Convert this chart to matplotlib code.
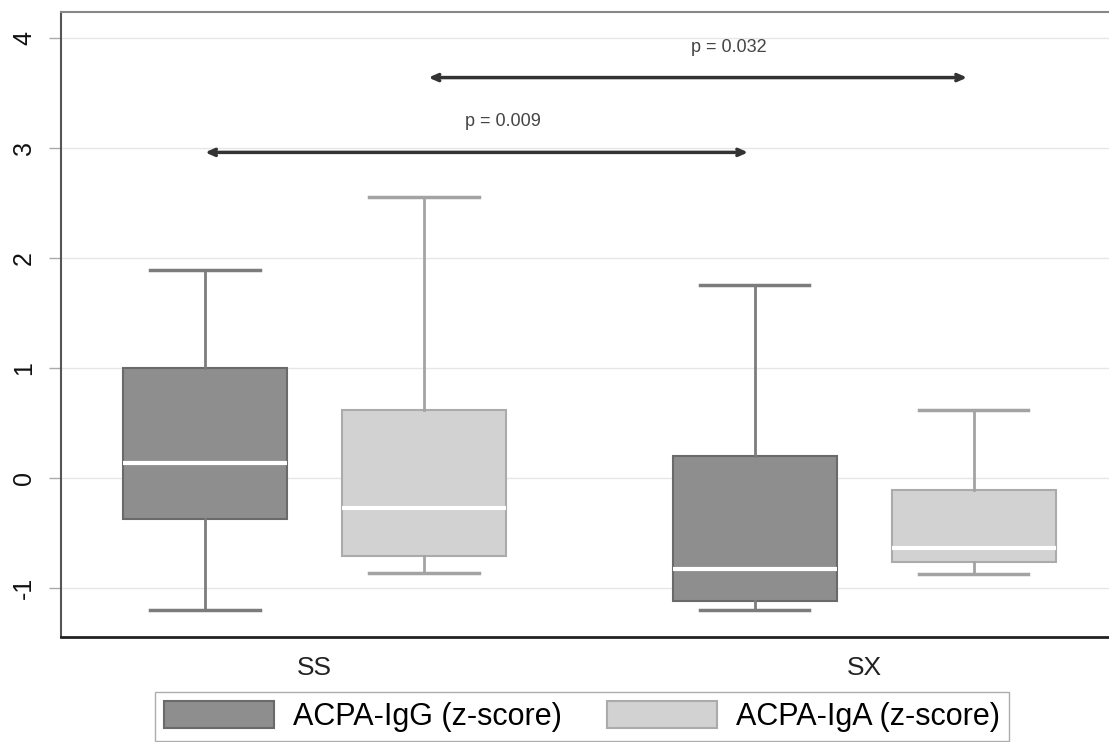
import numpy as np
import matplotlib
matplotlib.use("Agg")
import matplotlib.pyplot as plt
from matplotlib.patches import Patch

plt.rcParams['font.family'] = ['Liberation Sans', 'DejaVu Sans']

groups = ['SS', 'SX']
series = ['ACPA-IgG (z-score)', 'ACPA-IgA (z-score)']

# box statistics
igg_med = [0.14, -0.83]
igg_q1 = [-0.37, -1.12]
igg_q3 = [1.00, 0.20]
igg_lo = [-1.20, -1.20]
igg_hi = [1.89, 1.75]

iga_med = [-0.27, -0.64]
iga_q1 = [-0.71, -0.76]
iga_q3 = [0.62, -0.11]
iga_lo = [-0.86, -0.87]
iga_hi = [2.55, 0.62]

p_labels = ['p = 0.009', 'p = 0.032']
p_levels = [2.96, 3.64]

fill_cols = ['#8e8e8e', '#d2d2d2']
edge_cols = ['#6a6a6a', '#ababab']
whisk_cols = ['#7c7c7c', '#a3a3a3']

group_pos = np.array([0.0, 2.51])
offsets = [0.0, 1.0]

fig = plt.figure(figsize=(11.09, 7.42), dpi=100)
ax = fig.add_axes([61 / 1109, 1 - 637 / 742, 1 - 61 / 1109, (637 - 12) / 742])

all_stats = [
    (igg_med, igg_q1, igg_q3, igg_lo, igg_hi),
    (iga_med, iga_q1, iga_q3, iga_lo, iga_hi),
]
for k, (med, q1, q3, lo, hi) in enumerate(all_stats):
    stats = []
    for g in range(len(groups)):
        stats.append(dict(med=med[g], q1=q1[g], q3=q3[g], whislo=lo[g], whishi=hi[g], fliers=[]))
    ax.bxp(stats, positions=group_pos + offsets[k], widths=0.75, capwidths=0.5,
           patch_artist=True, showfliers=False, manage_ticks=False,
           boxprops=dict(facecolor=fill_cols[k], edgecolor=edge_cols[k], linewidth=1.5),
           medianprops=dict(color='white', linewidth=3),
           whiskerprops=dict(color=whisk_cols[k], linewidth=2),
           capprops=dict(color=whisk_cols[k], linewidth=2.5))

# comparison arrows: IgG SS vs SX, IgA SS vs SX
arrow_x = [(group_pos[0] + offsets[0], group_pos[1] + offsets[0] - 0.03),
           (group_pos[0] + offsets[1] + 0.02, group_pos[1] + offsets[1] - 0.03)]
text_x = [1.36, 2.39]
for k in range(2):
    x0, x1 = arrow_x[k]
    ax.annotate('', xy=(x1, p_levels[k]), xytext=(x0, p_levels[k]),
                arrowprops=dict(arrowstyle='<->,head_length=0.5,head_width=0.22',
                                color='#333333', lw=2.5, shrinkA=0, shrinkB=0))
    ax.text(text_x[k], p_levels[k] + 0.2, p_labels[k], ha='center', va='bottom',
            fontsize=13, color='#444444')

ax.set_xlim(-0.658, 4.128)
ax.set_ylim(-1.445, 4.236)
ax.set_yticks([-1, 0, 1, 2, 3, 4])
ax.set_yticklabels(['-1', '0', '1', '2', '3', '4'], rotation=90, va='center')
ax.set_xticks(group_pos + 0.5)
ax.set_xticklabels(groups)
ax.tick_params(axis='y', length=9, width=1, color='#aaaaaa', pad=9, labelsize=18, labelcolor='#111111')
ax.tick_params(axis='x', length=0, pad=14, labelsize=19, labelcolor='#222222')
ax.grid(axis='y', color='#e6e6e6', linewidth=1)
ax.set_axisbelow(True)

ax.spines['right'].set_visible(False)
ax.spines['left'].set_color('#555555')
ax.spines['left'].set_linewidth(1.5)
ax.spines['bottom'].set_color('#222222')
ax.spines['bottom'].set_linewidth(2)
ax.spines['top'].set_color('#888888')
ax.spines['top'].set_linewidth(1.5)

handles = [Patch(facecolor=fill_cols[k], edgecolor=edge_cols[k], linewidth=1.5) for k in range(2)]
leg = fig.legend(handles, series, loc='upper left', bbox_to_anchor=(155 / 1109, 1 - 692 / 742),
                 ncol=2, fontsize=22, frameon=True, fancybox=False, handlelength=3.6,
                 handleheight=0.95, handletextpad=0.62, columnspacing=1.48,
                 borderpad=0.3, borderaxespad=0)
leg.get_frame().set_edgecolor('#999999')
leg.get_frame().set_linewidth(1)

fig.savefig('out.png', dpi=100)
